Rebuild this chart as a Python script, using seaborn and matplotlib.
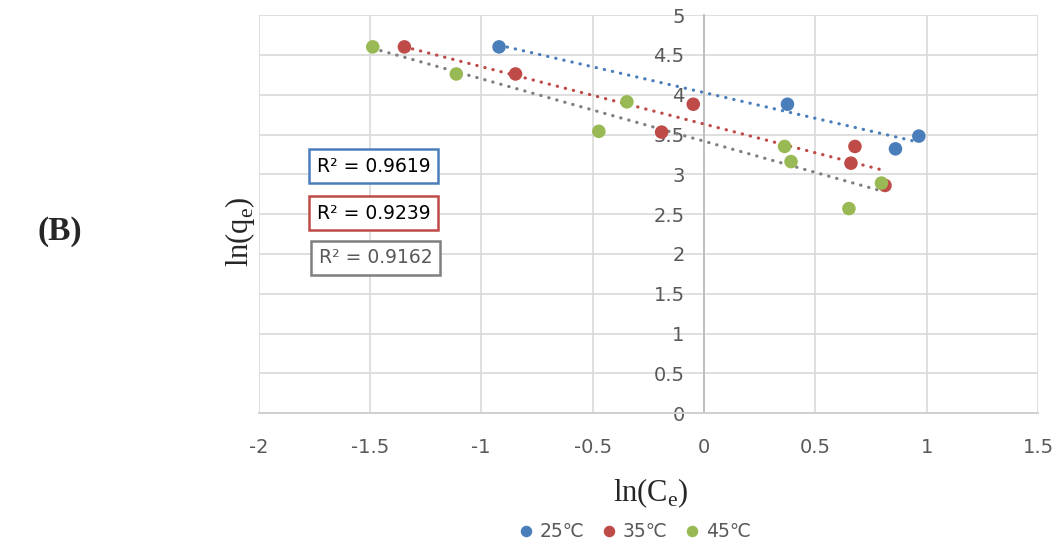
import matplotlib
matplotlib.use("Agg")
import matplotlib.pyplot as plt
import seaborn as sns
import pandas as pd

# ln(Ce) / ln(qe) pairs for each temperature
x25 = [-0.92, 0.375, 0.86, 0.965]
y25 = [4.60, 3.88, 3.32, 3.48]
x35 = [-1.345, -0.846, -0.19, -0.048, 0.66, 0.678, 0.813]
y35 = [4.60, 4.26, 3.53, 3.88, 3.14, 3.35, 2.86]
x45 = [-1.487, -1.112, -0.472, -0.346, 0.362, 0.391, 0.651, 0.797]
y45 = [4.60, 4.26, 3.54, 3.91, 3.35, 3.16, 2.57, 2.89]

series = ["25℃", "35℃", "45℃"]
r2_labels = ["R² = 0.9619", "R² = 0.9239", "R² = 0.9162"]
xticks = [-2, -1.5, -1, -0.5, 0, 0.5, 1, 1.5]
yticks = [0, 0.5, 1, 1.5, 2, 2.5, 3, 3.5, 4, 4.5, 5]

point_colors = ["#4A7EBB", "#BE4B48", "#98B954"]
trend_colors = ["#4A7EBB", "#BE4B48", "#7F7F7F"]
box_text_colors = ["#000000", "#000000", "#595959"]

df = pd.concat([
    pd.DataFrame({"x": x25, "y": y25, "T": series[0]}),
    pd.DataFrame({"x": x35, "y": y35, "T": series[1]}),
    pd.DataFrame({"x": x45, "y": y45, "T": series[2]}),
], ignore_index=True)

sns.set_style("white")
plt.rcParams["font.family"] = ["DejaVu Sans"]

fig = plt.figure(figsize=(10.63, 5.48), dpi=100)
ax = fig.add_axes([0.2432, 0.2458, 0.9765 - 0.2432, 0.9726 - 0.2458])

# dotted linear trend lines
for name, tc in zip(series, trend_colors):
    sub = df[df["T"] == name]
    sns.regplot(data=sub, x="x", y="y", ax=ax, scatter=False, ci=None,
                truncate=True,
                line_kws=dict(color=tc, lw=2.3, linestyle=(0, (0.1, 2.5)),
                              dash_capstyle="round", zorder=3))

sns.scatterplot(data=df, x="x", y="y", hue="T", hue_order=series,
                palette=point_colors, s=95, edgecolor="none", ax=ax,
                zorder=4, legend=True)

ax.set_xlim(-2, 1.5)
ax.set_ylim(0, 5)
ax.set_xticks(xticks)
ax.set_yticks(yticks)
ax.set_xticklabels([f"{t:g}" for t in xticks])
ax.set_yticklabels([f"{t:g}" for t in yticks])
ax.grid(True, color="#D9D9D9", lw=1.2)
ax.set_axisbelow(True)

for s in ["top", "right"]:
    ax.spines[s].set_visible(False)
ax.spines["left"].set_position(("data", 0))
ax.spines["left"].set_color("#BFBFBF")
ax.spines["left"].set_linewidth(1.4)
ax.spines["left"].set_zorder(2)
ax.spines["bottom"].set_color("#D0D0D0")
ax.spines["bottom"].set_linewidth(1.4)

ax.tick_params(axis="both", length=0, labelsize=14, labelcolor="#595959")
ax.tick_params(axis="x", pad=18)
ax.tick_params(axis="y", pad=14)

ax.set_xlabel("")
ax.set_ylabel("")

fig.text(0.612, 0.10, r"ln(C$_\mathregular{e}$)", ha="center", va="center",
         fontsize=22, family="Liberation Serif")
fig.text(0.226, 0.577, r"ln(q$_\mathregular{e}$)", ha="center", va="center",
         rotation=90, fontsize=22, family="Liberation Serif")
fig.text(0.056, 0.577, "(B)", ha="center", va="center", fontsize=24,
         fontweight="bold", family="Liberation Serif")

# R² annotation boxes
box_pos = [(-1.484, 3.10), (-1.484, 2.51), (-1.475, 1.95)]
for (bx, by), txt, ec, tcol in zip(box_pos, r2_labels, trend_colors, box_text_colors):
    ax.text(bx, by, txt, ha="center", va="center", fontsize=13.5, color=tcol,
            zorder=5,
            bbox=dict(boxstyle="square,pad=0.4", fc="white", ec=ec, lw=1.8))

handles, labels = ax.get_legend_handles_labels()
ax.legend(handles, labels, loc="center", bbox_to_anchor=(0.483, -0.298),
          ncol=3, frameon=False, fontsize=13.5, labelcolor="#595959",
          handlelength=0.7, handletextpad=0.35, columnspacing=1.0,
          markerscale=0.85)

fig.savefig("out.png", dpi=100)
